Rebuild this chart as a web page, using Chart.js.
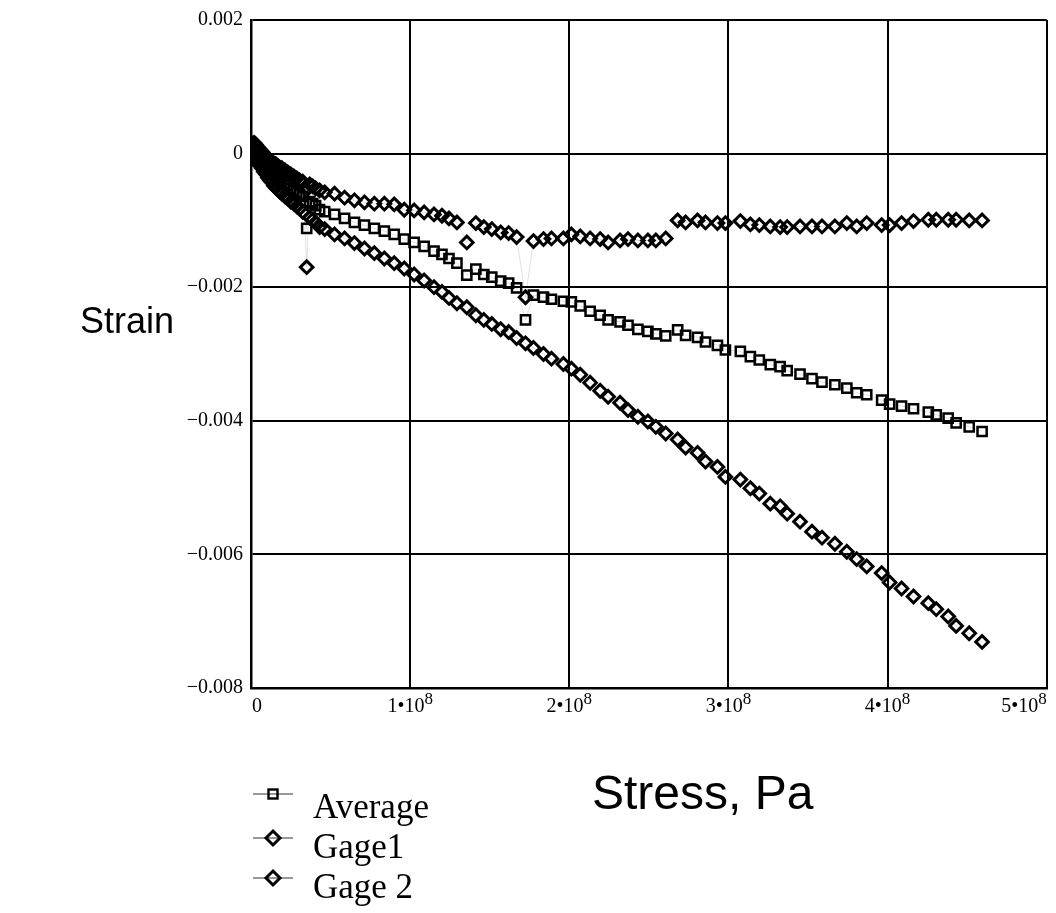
<!DOCTYPE html>
<html>
<head>
<meta charset="utf-8">
<script src="https://cdn.jsdelivr.net/npm/chart.js@4.4.1/dist/chart.umd.min.js"></script>
<style>
  body { margin: 0; background: #fff; }
  #wrap { position: relative; width: 1056px; height: 913px; }
  #wrap canvas { position: absolute; left: 0; top: 0; }
  .titulo { position: absolute; font-family: "Liberation Sans", Arial, sans-serif; color: #000; white-space: nowrap; }
  #tituloY { left: 80px; top: 300px; font-size: 36px; }
  #tituloX { left: 592px; top: 765px; font-size: 48px; }
  #leyenda { position: absolute; left: 240px; top: 787px; font-family: "Liberation Serif", "Times New Roman", serif; font-size: 35px; }
  #leyenda .fila { height: 40px; line-height: 40px; position: relative; padding-left: 73px; white-space: nowrap; }
  #leyenda svg { position: absolute; left: 10px; top: 2px; }
</style>
</head>
<body>
<div id="wrap">
  <canvas id="grafico"></canvas>
  <div class="titulo" id="tituloY">Strain</div>
  <div class="titulo" id="tituloX">Stress, Pa</div>
  <div id="leyenda"></div>
</div>
<script>
// Esfuerzo aplicado (Pa), comun a las tres series
var esfuerzo = [
  0.6e6, 1.3e6, 1.9e6, 2.5e6, 3.1e6, 3.8e6, 4.4e6, 5.0e6, 5.6e6, 6.9e6,
  8.1e6, 9.4e6, 10.6e6, 11.9e6, 13.1e6, 14.4e6, 15.6e6, 16.9e6, 18.1e6, 19.4e6,
  21.3e6, 23.1e6, 25.0e6, 26.9e6, 28.8e6, 30.6e6, 32.5e6, 35.0e6, 36.9e6, 38.8e6,
  40.6e6, 43.1e6, 46.3e6, 52.5e6, 58.8e6, 65.0e6, 71.3e6, 77.5e6, 83.8e6, 90.0e6,
  96.3e6, 102.5e6, 108.8e6, 115.0e6, 120.0e6, 124.4e6, 129.4e6, 135.6e6, 141.3e6, 146.3e6,
  151.3e6, 156.9e6, 161.9e6, 166.9e6, 172.5e6, 177.5e6, 183.8e6, 188.8e6, 196.3e6, 201.3e6,
  206.9e6, 213.1e6, 219.4e6, 224.4e6, 231.9e6, 236.9e6, 243.1e6, 249.4e6, 254.4e6, 260.6e6,
  268.1e6, 273.1e6, 280.6e6, 285.6e6, 293.1e6, 298.1e6, 307.5e6, 313.8e6, 319.4e6, 326.3e6,
  332.5e6, 336.9e6, 345.0e6, 352.5e6, 358.8e6, 366.9e6, 374.4e6, 380.6e6, 386.9e6, 396.3e6,
  401.3e6, 408.8e6, 416.3e6, 425.6e6, 430.6e6, 438.1e6, 443.1e6, 451.3e6, 459.4e6
];

// Deformacion promedio
var promedio = [
  0.00007, 0.00007, 0.00007, 0.00004, 0.00003, 0.00000, -0.00003, -0.00004, -0.00006, -0.00010,
  -0.00015, -0.00018, -0.00022, -0.00025, -0.00028, -0.00031, -0.00034, -0.00037, -0.00039, -0.00042,
  -0.00045, -0.00048, -0.00052, -0.00055, -0.00058, -0.00061, -0.00064, -0.00112, -0.00072, -0.00075,
  -0.00078, -0.00084, -0.00087, -0.00091, -0.00097, -0.00103, -0.00107, -0.00112, -0.00116, -0.00121,
  -0.00128, -0.00133, -0.00139, -0.00146, -0.00151, -0.00157, -0.00164, -0.00182, -0.00173, -0.00181,
  -0.00185, -0.00191, -0.00194, -0.00201, -0.00249, -0.00212, -0.00215, -0.00218, -0.00221, -0.00222,
  -0.00228, -0.00236, -0.00242, -0.00249, -0.00252, -0.00257, -0.00263, -0.00266, -0.00270, -0.00273,
  -0.00264, -0.00272, -0.00275, -0.00282, -0.00287, -0.00294, -0.00296, -0.00304, -0.00309, -0.00316,
  -0.00319, -0.00325, -0.00330, -0.00337, -0.00342, -0.00346, -0.00351, -0.00358, -0.00361, -0.00369,
  -0.00375, -0.00378, -0.00382, -0.00387, -0.00391, -0.00396, -0.00403, -0.00409, -0.00416
];

// Galga 1
var galga1 = [
  0.00012, 0.00015, 0.00016, 0.00015, 0.00013, 0.00010, 0.00009, 0.00007, 0.00006, 0.00003,
  -0.00001, -0.00004, -0.00007, -0.00010, -0.00012, -0.00015, -0.00016, -0.00019, -0.00021, -0.00022,
  -0.00025, -0.00028, -0.00031, -0.00034, -0.00037, -0.00040, -0.00042, -0.00170, -0.00046, -0.00049,
  -0.00052, -0.00055, -0.00058, -0.00060, -0.00066, -0.00070, -0.00073, -0.00075, -0.00075, -0.00076,
  -0.00084, -0.00085, -0.00088, -0.00091, -0.00093, -0.00097, -0.00103, -0.00133, -0.00104, -0.00110,
  -0.00113, -0.00118, -0.00119, -0.00125, -0.00215, -0.00131, -0.00128, -0.00127, -0.00127, -0.00121,
  -0.00124, -0.00127, -0.00128, -0.00133, -0.00130, -0.00128, -0.00130, -0.00130, -0.00130, -0.00127,
  -0.00100, -0.00103, -0.00100, -0.00103, -0.00104, -0.00104, -0.00101, -0.00106, -0.00107, -0.00109,
  -0.00110, -0.00110, -0.00109, -0.00109, -0.00109, -0.00109, -0.00104, -0.00109, -0.00104, -0.00107,
  -0.00107, -0.00104, -0.00101, -0.00099, -0.00099, -0.00099, -0.00099, -0.00100, -0.00100
];

// Galga 2
var galga2 = [
  0.00004, 0.00001, -0.00001, -0.00004, -0.00007, -0.00010, -0.00013, -0.00015, -0.00018, -0.00022,
  -0.00027, -0.00031, -0.00036, -0.00040, -0.00043, -0.00048, -0.00051, -0.00054, -0.00057, -0.00060,
  -0.00064, -0.00067, -0.00072, -0.00075, -0.00079, -0.00082, -0.00087, -0.00054, -0.00096, -0.00099,
  -0.00103, -0.00110, -0.00113, -0.00121, -0.00127, -0.00134, -0.00142, -0.00149, -0.00157, -0.00164,
  -0.00172, -0.00181, -0.00190, -0.00200, -0.00207, -0.00216, -0.00224, -0.00230, -0.00242, -0.00249,
  -0.00255, -0.00263, -0.00267, -0.00276, -0.00284, -0.00291, -0.00300, -0.00307, -0.00315, -0.00322,
  -0.00331, -0.00343, -0.00355, -0.00364, -0.00373, -0.00384, -0.00394, -0.00401, -0.00409, -0.00419,
  -0.00428, -0.00440, -0.00448, -0.00461, -0.00469, -0.00484, -0.00488, -0.00501, -0.00509, -0.00524,
  -0.00528, -0.00539, -0.00551, -0.00566, -0.00575, -0.00584, -0.00596, -0.00607, -0.00618, -0.00628,
  -0.00642, -0.00651, -0.00663, -0.00673, -0.00682, -0.00693, -0.00707, -0.00718, -0.00731
];

var nombresSeries = ['Average', 'Gage1', 'Gage 2'];
// base^exponente, el exponente se dibuja elevado
var etiquetasX = ['0', '1•10^8', '2•10^8', '3•10^8', '4•10^8', '5•10^8'];
var etiquetasY = ['−0.008', '−0.006', '−0.004', '−0.002', '0', '0.002'];

// Convierte una serie en pares {x, y}
function puntos(serie) {
    return serie.map(function(v, i) { return { x: esfuerzo[i], y: v }; });
}

function serie(nombre, datos, forma, radio, grosor) {
    return {
        label: nombre,
        data: puntos(datos),
        showLine: true,
        borderColor: 'rgba(0,0,0,0.12)',
        borderWidth: 1,
        pointStyle: forma,
        pointRadius: radio,
        pointBorderColor: '#000',
        pointBackgroundColor: 'rgba(255,255,255,0)',
        pointBorderWidth: grosor
    };
}

var familiaSerif = '"Liberation Serif", "Times New Roman", serif';
var fuenteEjes = { family: familiaSerif, size: 20 };

// Dibuja las etiquetas del eje x con el exponente como superindice
var etiquetasPotencia = {
    id: 'etiquetasPotencia',
    afterDraw: function(chart) {
        var escala = chart.scales.x;
        var c = chart.ctx;
        var ultimo = escala.ticks.length - 1;
        c.save();
        c.fillStyle = '#000';
        c.textBaseline = 'alphabetic';
        escala.ticks.forEach(function(tick, i) {
            var partes = etiquetasX[i].split('^');
            c.font = '20px ' + familiaSerif;
            var anchoBase = c.measureText(partes[0]).width;
            var anchoExp = 0;
            if (partes[1]) {
                c.font = '17px ' + familiaSerif;
                anchoExp = c.measureText(partes[1]).width;
            }
            var total = anchoBase + anchoExp;
            var px = escala.getPixelForValue(tick.value);
            var x0 = px - total / 2;
            if (i === 0) x0 = px + 1;
            if (i === ultimo) x0 = px - total;
            var base = escala.top + 24;
            c.font = '20px ' + familiaSerif;
            c.fillText(partes[0], x0, base);
            if (partes[1]) {
                c.font = '17px ' + familiaSerif;
                c.fillText(partes[1], x0 + anchoBase, base - 8);
            }
        });
        c.restore();
    }
};

var ctx = document.getElementById('grafico').getContext('2d');
var grafico = new Chart(ctx, {
    type: 'scatter',
    data: {
        datasets: [
            serie(nombresSeries[0], promedio, 'rect', 6.5, 2.5),
            serie(nombresSeries[1], galga1, 'rectRot', 6.3, 3),
            serie(nombresSeries[2], galga2, 'rectRot', 6.3, 3)
        ]
    },
    plugins: [etiquetasPotencia],
    options: {
        responsive: true,
        maintainAspectRatio: false,
        devicePixelRatio: 1,
        animation: false,
        layout: { padding: { top: 18, right: 5, left: 0, bottom: 0 } },
        plugins: {
            legend: { display: false },
            tooltip: { enabled: false }
        },
        scales: {
            x: {
                type: 'linear',
                min: 0,
                max: 5e8,
                afterFit: function(escala) { escala.height = 225; },
                border: { color: '#000', width: 2.5 },
                grid: { color: '#000', lineWidth: 2, drawTicks: false },
                ticks: {
                    stepSize: 1e8,
                    align: 'inner',
                    padding: 5,
                    color: 'rgba(0,0,0,0)',
                    font: fuenteEjes,
                    maxRotation: 0,
                    callback: function(valor, indice) { return etiquetasX[indice].replace('^', ''); }
                }
            },
            y: {
                type: 'linear',
                min: -0.008,
                max: 0.002,
                afterFit: function(escala) { escala.width = 251; },
                border: { color: '#000', width: 2.5 },
                grid: { color: '#000', lineWidth: 2, drawTicks: false },
                ticks: {
                    stepSize: 0.002,
                    padding: 8,
                    color: '#000',
                    font: fuenteEjes,
                    callback: function(valor, indice) { return etiquetasY[indice]; }
                }
            }
        }
    }
});

// Leyenda con la linea y el marcador de cada serie
var formas = [
    '<rect x="18.5" y="11.5" width="9" height="9" fill="none" stroke="#000" stroke-width="2.4"/>',
    '<polygon points="23,9 30,16 23,23 16,16" fill="none" stroke="#000" stroke-width="3"/>',
    '<polygon points="23,9 30,16 23,23 16,16" fill="none" stroke="#000" stroke-width="3"/>'
];
var desfases = [-4, 0, 0];
var leyenda = document.getElementById('leyenda');
nombresSeries.forEach(function(nombre, i) {
    var fila = document.createElement('div');
    fila.className = 'fila';
    fila.innerHTML = '<svg width="46" height="32" style="top:' + (desfases[i] - 5) + 'px">' +
        '<line x1="3" y1="16" x2="43" y2="16" stroke="#333" stroke-width="1"/>' + formas[i] + '</svg>' +
        '<span>' + nombre + '</span>';
    leyenda.appendChild(fila);
});
</script>
</body>
</html>
